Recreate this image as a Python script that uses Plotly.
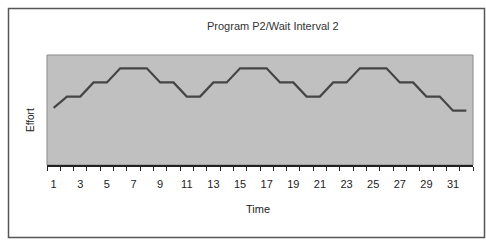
import plotly.graph_objects as go

time = list(range(1, 33))
effort = [2.2, 3, 3, 4, 4, 5, 5, 5, 4, 4, 3, 3, 4, 4, 5, 5, 5, 4, 4, 3, 3, 4, 4, 5, 5, 5, 4, 4, 3, 3, 2, 2]
tick_labels = [str(v) for v in range(1, 32, 2)]

W, H = 486, 242
L, R, T, B = 47, 13, 55, 77
pw, ph = W - L - R, H - T - B

fig = go.Figure()
fig.add_trace(go.Scatter(x=time, y=effort, mode="lines",
                         line=dict(color="#454545", width=2.2), hoverinfo="skip"))

def px_x(p):
    return (p - L) / pw

def px_y(p):
    return (H - B - p) / ph

txt = "#222"
fig.update_layout(
    width=W, height=H,
    margin=dict(l=L, r=R, t=T, b=B, autoexpand=False),
    paper_bgcolor="white",
    plot_bgcolor="#c0c0c0",
    showlegend=False,
    font=dict(family="Liberation Sans, Arial, sans-serif", color=txt),
    xaxis=dict(range=[0.5, 32.5], tickvals=[int(t) for t in tick_labels], ticktext=tick_labels,
               ticks="", showgrid=False, zeroline=False, showline=True, linecolor="#222", linewidth=1.5,
               tickfont=dict(size=11, color=txt), automargin=False, ticklabelstandoff=8,
               minor=dict(ticks="outside", tick0=0.5, dtick=1, ticklen=4, tickcolor="#222", tickwidth=1, showgrid=False)),
    yaxis=dict(range=[-1.84, 5.94], showticklabels=False, ticks="", showgrid=False, zeroline=False,
               showline=False, automargin=False),
    shapes=[
        dict(type="rect", xref="paper", yref="paper", x0=px_x(8.5), x1=px_x(484.5), y0=px_y(237.5), y1=px_y(8.5),
             line=dict(color="#555", width=1.5), fillcolor="rgba(0,0,0,0)", layer="below"),
        dict(type="rect", xref="paper", yref="paper", x0=0, x1=1, y0=0, y1=1,
             line=dict(color="#8a8a8a", width=1), fillcolor="rgba(0,0,0,0)", layer="below"),
    ],
    annotations=[
        dict(text="Program P2/Wait Interval 2", xref="paper", yref="paper", x=px_x(273), y=px_y(26),
             showarrow=False, xanchor="center", yanchor="middle", font=dict(size=11, color="#333")),
        dict(text="Time", xref="paper", yref="paper", x=px_x(258), y=px_y(209),
             showarrow=False, xanchor="center", yanchor="middle", font=dict(size=11, color=txt)),
        dict(text="Effort", xref="paper", yref="paper", x=px_x(31), y=px_y(120), textangle=-90,
             showarrow=False, xanchor="center", yanchor="middle", font=dict(size=10, color=txt)),
    ],
)

fig.write_html("out.html", config={"displayModeBar": False, "staticPlot": True},
               post_script="document.body.style.margin='0';document.body.style.overflow='hidden';")
